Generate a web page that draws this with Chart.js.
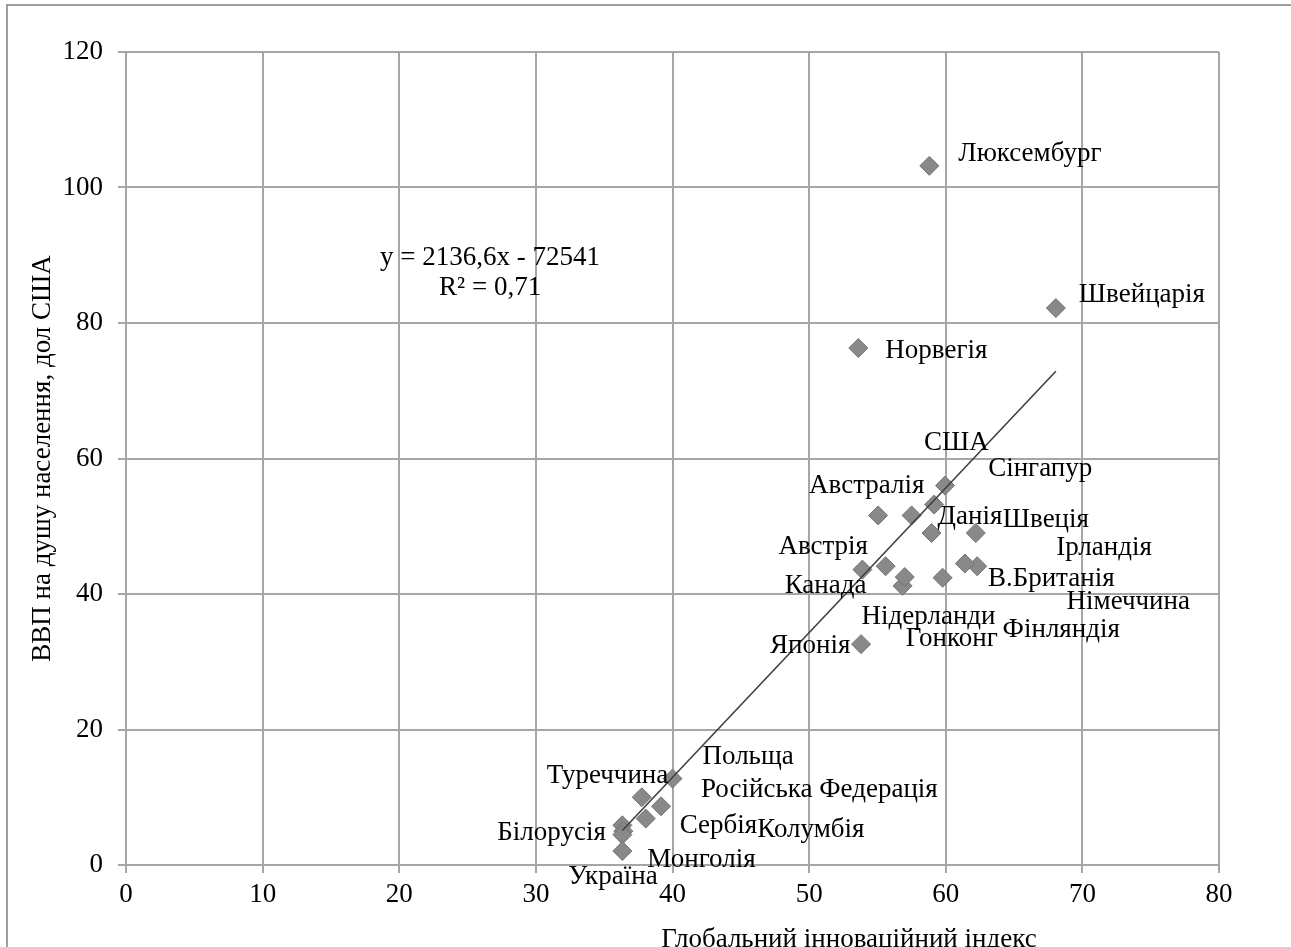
<!DOCTYPE html>
<html lang="uk">
<head>
<meta charset="utf-8">
<title>ВВП на душу населення і Глобальний інноваційний індекс</title>
<script src="https://cdn.jsdelivr.net/npm/chart.js@4.4.1/dist/chart.umd.min.js"></script>
<style>
  html, body { margin: 0; padding: 0; background: #fff; overflow: hidden; }
  #wrap { width: 1291px; height: 947px; }
</style>
</head>
<body>
<div id="wrap"><canvas id="chart" width="1291" height="947"></canvas></div>
<script>
// Countries and their values (GII score, GDP per capita in thousand USD)
const countries = ['Люксембург', 'Швейцарія', 'Норвегія', 'США', 'Сінгапур', 'Австралія', 'Данія', 'Швеція',
  'Ірландія', 'В.Британія', 'Німеччина', 'Австрія', 'Канада', 'Нідерланди', 'Гонконг', 'Фінляндія', 'Японія',
  'Польща', 'Туреччина', 'Російська Федерація', 'Сербія', 'Білорусія', 'Колумбія', 'Монголія', 'Україна'];
const gii = [58.8, 68.06, 53.6, 59.95, 59.15, 55.05, 57.5, 62.2,
  62.3, 61.4, 58.96, 53.9, 55.6, 56.84, 57.0, 59.77, 53.8,
  40.0, 37.75, 39.16, 38.04, 36.33, 36.4, 36.33, 36.33];
const gdp = [103.2, 82.2, 76.3, 56.0, 53.2, 51.6, 51.6, 49.0,
  44.1, 44.5, 49.0, 43.6, 44.1, 41.2, 42.5, 42.4, 32.6,
  12.75, 10.0, 8.66, 6.85, 5.86, 5.0, 4.48, 2.07];

const xTicks = [0, 10, 20, 30, 40, 50, 60, 70, 80];
const yTicks = [0, 20, 40, 60, 80, 100, 120];

// Linear trend as printed on the chart (dollars), axis shows thousands
const trendSlope = 2136.6;
const trendIntercept = -72541;
const equationLines = ['y = 2136,6x - 72541', 'R² = 0,71'];

// where the data labels were dragged to, relative to their marker (px)
const labelOffsets = [[29, -5], [23, -6], [27, 10], [-21, -36], [54, -29], [-69, -22], [26, 9], [27, -6],
  [79, -11], [23, 22], [135, 76], [-84, -16], [-101, 27], [-41, 38], [1, 69], [60, 59], [-91, 9],
  [30, -15], [-95, -14], [40, -9], [34, 14], [-125, 15], [134, 6], [25, 32], [-54, 33]];

const FONT = '"Liberation Serif", "Times New Roman", serif';
const FONT_SIZE = 27;
const GRID = '#a6a6a6';

const points = gii.map((x, i) => ({ x: x, y: gdp[i] }));
const xMin = Math.min(...gii), xMax = Math.max(...gii);
const trend = [xMin, xMax].map(x => ({ x: x, y: (trendSlope * x + trendIntercept) / 1000 }));

// frame, axis titles, data labels and equation
const extras = {
  id: 'extras',
  beforeDraw(chart) {
    const ctx = chart.ctx;
    ctx.save();
    ctx.fillStyle = '#fff';
    ctx.fillRect(0, 0, chart.width, chart.height);
    ctx.strokeStyle = '#7f7f7f';
    ctx.lineWidth = 1.5;
    ctx.beginPath();
    ctx.moveTo(7, chart.height);
    ctx.lineTo(7, 5);
    ctx.lineTo(chart.width, 5);
    ctx.stroke();
    ctx.restore();
  },
  afterDatasetsDraw(chart) {
    const ctx = chart.ctx;
    const area = chart.chartArea;
    const sx = chart.scales.x, sy = chart.scales.y;
    ctx.save();
    ctx.font = FONT_SIZE + 'px ' + FONT;
    ctx.fillStyle = '#000';
    ctx.textBaseline = 'alphabetic';
    ctx.textAlign = 'left';
    const meta = chart.getDatasetMeta(1);
    meta.data.forEach((pt, i) => {
      const off = labelOffsets[i];
      ctx.fillText(countries[i], pt.x + off[0], pt.y + off[1]);
    });

    // trend equation
    ctx.textAlign = 'center';
    const ex = sx.getPixelForValue(26.65), ey = sy.getPixelForValue(88.5);
    ctx.fillText(equationLines[0], ex, ey);
    ctx.fillText(equationLines[1], ex, ey + 30);

    // x axis title (moved right in the original)
    ctx.fillText('Глобальний інноваційний індекс', 849, chart.height);

    // y axis title
    ctx.translate(50, (area.top + area.bottom) / 2);
    ctx.rotate(-Math.PI / 2);
    ctx.fillText('ВВП на душу населення, дол США', 0, 0);
    ctx.restore();
  }
};

new Chart(document.getElementById('chart'), {
  type: 'scatter',
  data: {
    datasets: [
      {
        label: 'Лінійна (тренд)',
        type: 'line',
        data: trend,
        borderColor: '#404040',
        borderWidth: 1.6,
        pointRadius: 0,
        fill: false,
        order: 0
      },
      {
        label: 'ВВП на душу населення',
        data: points,
        pointStyle: 'rectRot',
        pointRadius: 9.5,
        pointHoverRadius: 9.5,
        backgroundColor: '#898989',
        borderColor: '#737373',
        borderWidth: 1,
        order: 1
      }
    ]
  },
  options: {
    responsive: false,
    animation: false,
    layout: { padding: { left: 0, top: 52, right: 72, bottom: 0 } },
    plugins: {
      legend: { display: false },
      tooltip: { enabled: false }
    },
    scales: {
      x: {
        type: 'linear',
        min: xTicks[0],
        max: xTicks[xTicks.length - 1],
        afterBuildTicks(scale) { scale.ticks = xTicks.map(v => ({ value: v })); },
        afterFit(scale) { scale.height = 82; },
        grid: { color: GRID, lineWidth: 2, tickLength: 8 },
        border: { color: GRID, width: 2 },
        ticks: { color: '#000', font: { family: FONT, size: FONT_SIZE }, padding: 6, maxRotation: 0 }
      },
      y: {
        type: 'linear',
        min: yTicks[0],
        max: yTicks[yTicks.length - 1],
        afterBuildTicks(scale) { scale.ticks = yTicks.map(v => ({ value: v })); },
        afterFit(scale) { scale.width = 126; },
        grid: { color: GRID, lineWidth: 2, tickLength: 8 },
        border: { color: GRID, width: 2 },
        ticks: { color: '#000', font: { family: FONT, size: FONT_SIZE }, padding: 15 }
      }
    }
  },
  plugins: [extras]
});
</script>
</body>
</html>
